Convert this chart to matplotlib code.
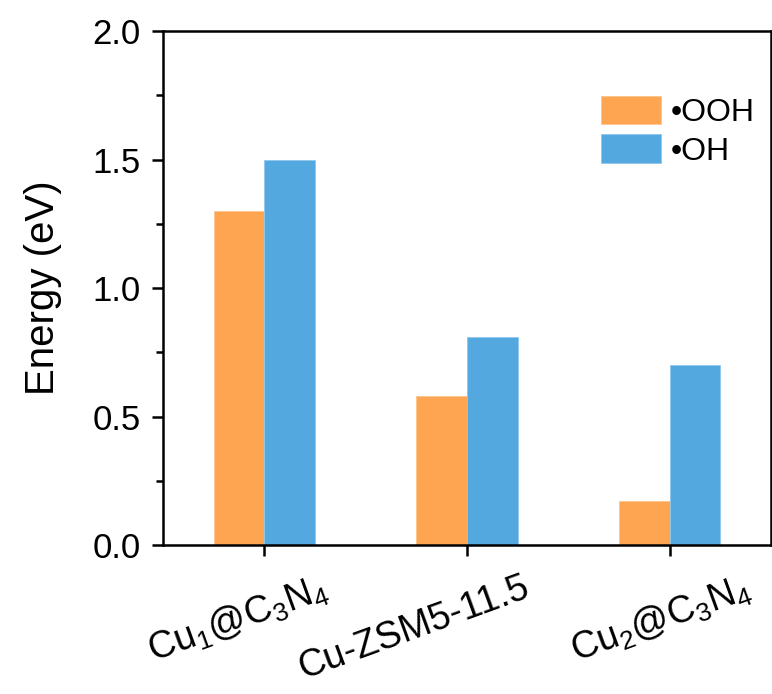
import numpy as np
from matplotlib import pyplot as plt
from matplotlib import transforms

plt.rcParams['font.family'] = ['Liberation Sans', 'DejaVu Sans']
plt.rcParams['mathtext.fontset'] = 'custom'
plt.rcParams['mathtext.rm'] = 'Liberation Sans'
plt.rcParams['mathtext.it'] = 'Liberation Sans:italic'

# data
catalysts = [r'Cu$_\mathrm{1}$@C$_\mathrm{3}$N$_\mathrm{4}$', 'Cu-ZSM5-11.5',
			 r'Cu$_\mathrm{2}$@C$_\mathrm{3}$N$_\mathrm{4}$']
ooh = [1.30, 0.58, 0.17]
oh = [1.50, 0.81, 0.70]
series_labels = ['\u2022OOH', '\u2022OH']

orange = '#FDA550'
blue = '#53A8E0'

fig = plt.figure(figsize=(7.72, 6.94), dpi=100)
ax = fig.add_axes([0.211, 0.2147, 0.7877, 0.7406])

x = np.arange(len(catalysts))
w = 0.25
ax.bar(x - w/2, ooh, w, color=orange, edgecolor='#FFC58A', linewidth=0.6, label=series_labels[0])
ax.bar(x + w/2, oh, w, color=blue, edgecolor='#8FC8EE', linewidth=0.6, label=series_labels[1])

ax.set_xlim(-0.5, 2.5)
ax.set_ylim(0, 2.0)
ax.set_yticks([0, 0.5, 1.0, 1.5, 2.0])
ax.set_yticks(np.arange(0.25, 2.0, 0.5), minor=True)
ax.set_xticks(x)
ax.set_xticklabels([])

# slanted category labels, placed by hand (pixel offsets from each tick)
shifts = [-26, -53, -9]
for xi, name, s in zip(x, catalysts, shifts):
	off = transforms.ScaledTranslation(s / 100, -25 / 100, fig.dpi_scale_trans)
	ax.text(xi, 0, name, transform=ax.get_xaxis_transform() + off, rotation=20,
			ha='center', va='top', fontsize=27)

ax.tick_params(axis='y', which='major', length=8, width=1.8, labelsize=25, direction='out', pad=8)
ax.tick_params(axis='y', which='minor', length=5, width=1.8, direction='out')
ax.tick_params(axis='x', which='major', length=8, width=1.8, direction='out')
for sp in ax.spines.values():
	sp.set_linewidth(1.8)

ax.set_ylabel('Energy (eV)', fontsize=29, labelpad=22)

ax.legend(loc='upper left', bbox_to_anchor=(0.72, 0.874), frameon=False, fontsize=23,
		  handlelength=1.9, handleheight=1.0, handletextpad=0.3, labelspacing=0.2,
		  borderpad=0, borderaxespad=0)

plt.savefig('out.png', dpi=100)
